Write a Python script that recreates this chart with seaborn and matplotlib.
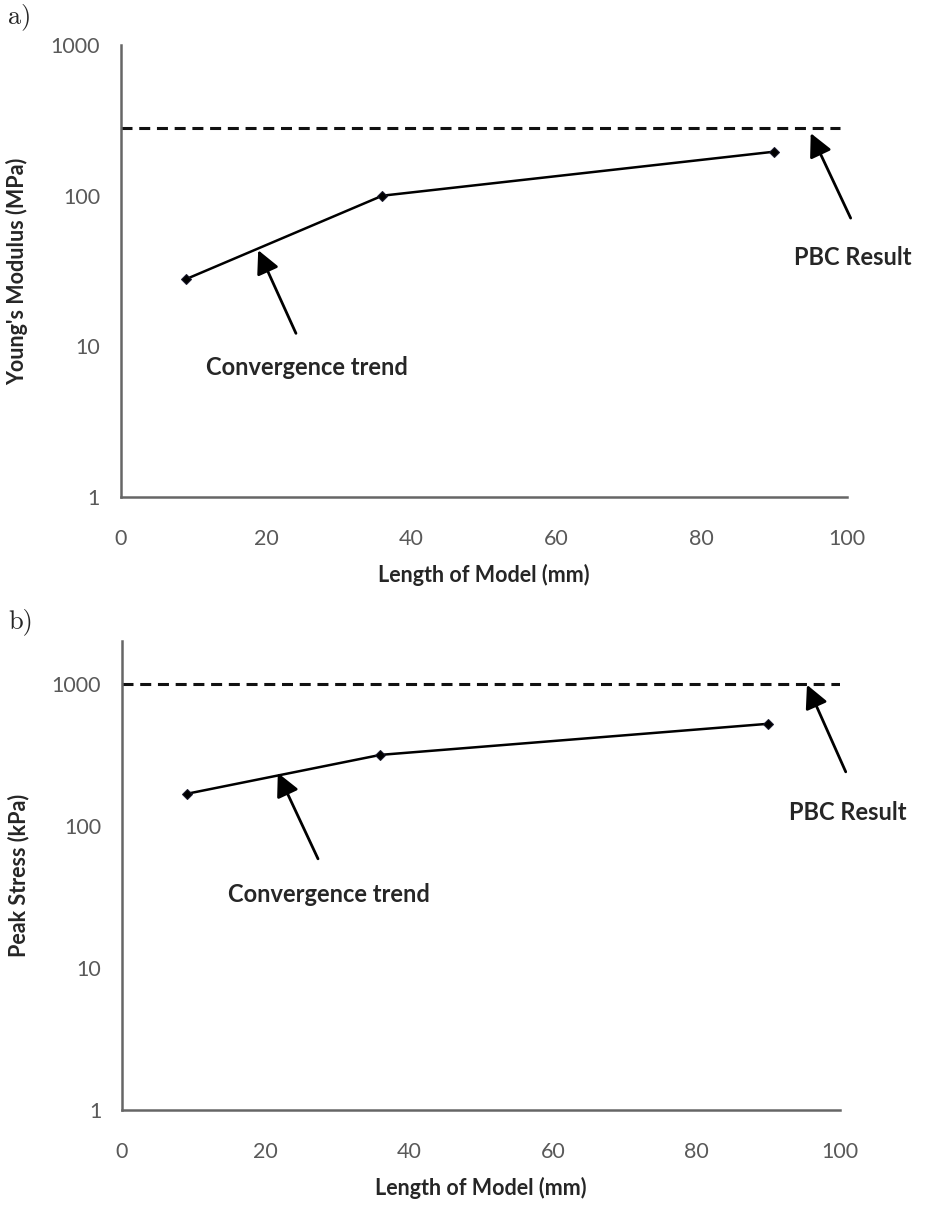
import matplotlib
matplotlib.use("Agg")
import matplotlib.pyplot as plt
import seaborn as sns

# valores
longitud = [9, 36, 90]          # mm
modulo = [28, 100, 196]         # MPa  (panel a)
tension = [168, 316, 523]       # kPa  (panel b)
pbc_modulo = 280
pbc_tension = 1000
pbc_x = [0, 99]

xticks = [0, 20, 40, 60, 80, 100]
yticks = [1, 10, 100, 1000]
ytick_labels = ["1", "10", "100", "1000"]

sns.set_style("white")
plt.rcParams['font.family'] = ['Lato', 'DejaVu Sans']

fig = plt.figure(figsize=(9.25, 12.07), dpi=100)
ax_a = fig.add_axes([0.1308, 0.5882, 0.7849, 0.3745])
ax_b = fig.add_axes([0.1319, 0.0804, 0.7762, 0.3885])


def estilo(ax, ylim, ylabel):
    ax.set_yscale('log')
    ax.set_xlim(0, 100)
    ax.set_ylim(*ylim)
    ax.set_xticks(xticks, labels=[str(t) for t in xticks])
    ax.set_yticks(yticks, labels=ytick_labels)
    ax.minorticks_off()
    for s in ['top', 'right']:
        ax.spines[s].set_visible(False)
    for s in ['left', 'bottom']:
        ax.spines[s].set_color('#666666')
        ax.spines[s].set_linewidth(1.8)
    ax.tick_params(axis='x', length=0, labelsize=15.5, labelcolor='#595959', pad=23)
    ax.tick_params(axis='y', length=0, labelsize=15.5, labelcolor='#595959', pad=15)
    ax.set_xlabel('Length of Model (mm)', fontsize=15.5, fontweight='bold', labelpad=11)
    ax.set_ylabel(ylabel, fontsize=15.5, fontweight='bold', labelpad=16)
    ax.grid(False)


flecha = dict(arrowstyle='-|>,head_length=0.7,head_width=0.35', color='black',
              lw=2, mutation_scale=20, shrinkA=0, shrinkB=0)

# ---- panel a
sns.lineplot(x=longitud, y=modulo, ax=ax_a, color='black', lw=1.8,
             marker='D', markersize=5, markeredgecolor='#1a1a2e')
ax_a.hlines(pbc_modulo, pbc_x[0], pbc_x[1], colors='#111111', lw=2.2,
            linestyles=(0, (3.6, 2.2)))
estilo(ax_a, (1, 1000), "Young's Modulus (MPa)")
ax_a.annotate('', xy=(18.9, 43.5), xytext=(24.1, 12.2), arrowprops=flecha)
ax_a.text(25.6, 7.2, 'Convergence trend', ha='center', va='center',
          fontsize=17, fontweight='bold')
ax_a.annotate('', xy=(95.0, 260), xytext=(100.5, 71), arrowprops=flecha,
              annotation_clip=False)
ax_a.text(92.7, 39, 'PBC Result', ha='left', va='center',
          fontsize=17, fontweight='bold')

# ---- panel b
sns.lineplot(x=longitud, y=tension, ax=ax_b, color='black', lw=1.8,
             marker='D', markersize=5, markeredgecolor='#1a1a2e')
ax_b.hlines(pbc_tension, pbc_x[0], 100, colors='#111111', lw=2.2,
            linestyles=(0, (3.6, 2.2)))
estilo(ax_b, (1, 2000), 'Peak Stress (kPa)')
ax_b.annotate('', xy=(21.7, 236), xytext=(27.3, 58.6), arrowprops=flecha)
ax_b.text(28.8, 32.7, 'Convergence trend', ha='center', va='center',
          fontsize=17, fontweight='bold')
ax_b.annotate('', xy=(95.4, 984), xytext=(100.8, 240), arrowprops=flecha,
              annotation_clip=False)
ax_b.text(92.9, 125, 'PBC Result', ha='left', va='center',
          fontsize=17, fontweight='bold')

# etiquetas de panel
fig.text(8 / 925, 1 - 17 / 1207, 'a)', fontsize=19, family='cmr10', va='center')
fig.text(8 / 925, 1 - 622 / 1207, 'b)', fontsize=19, family='cmr10', va='center')

fig.savefig('out.png', dpi=100)
